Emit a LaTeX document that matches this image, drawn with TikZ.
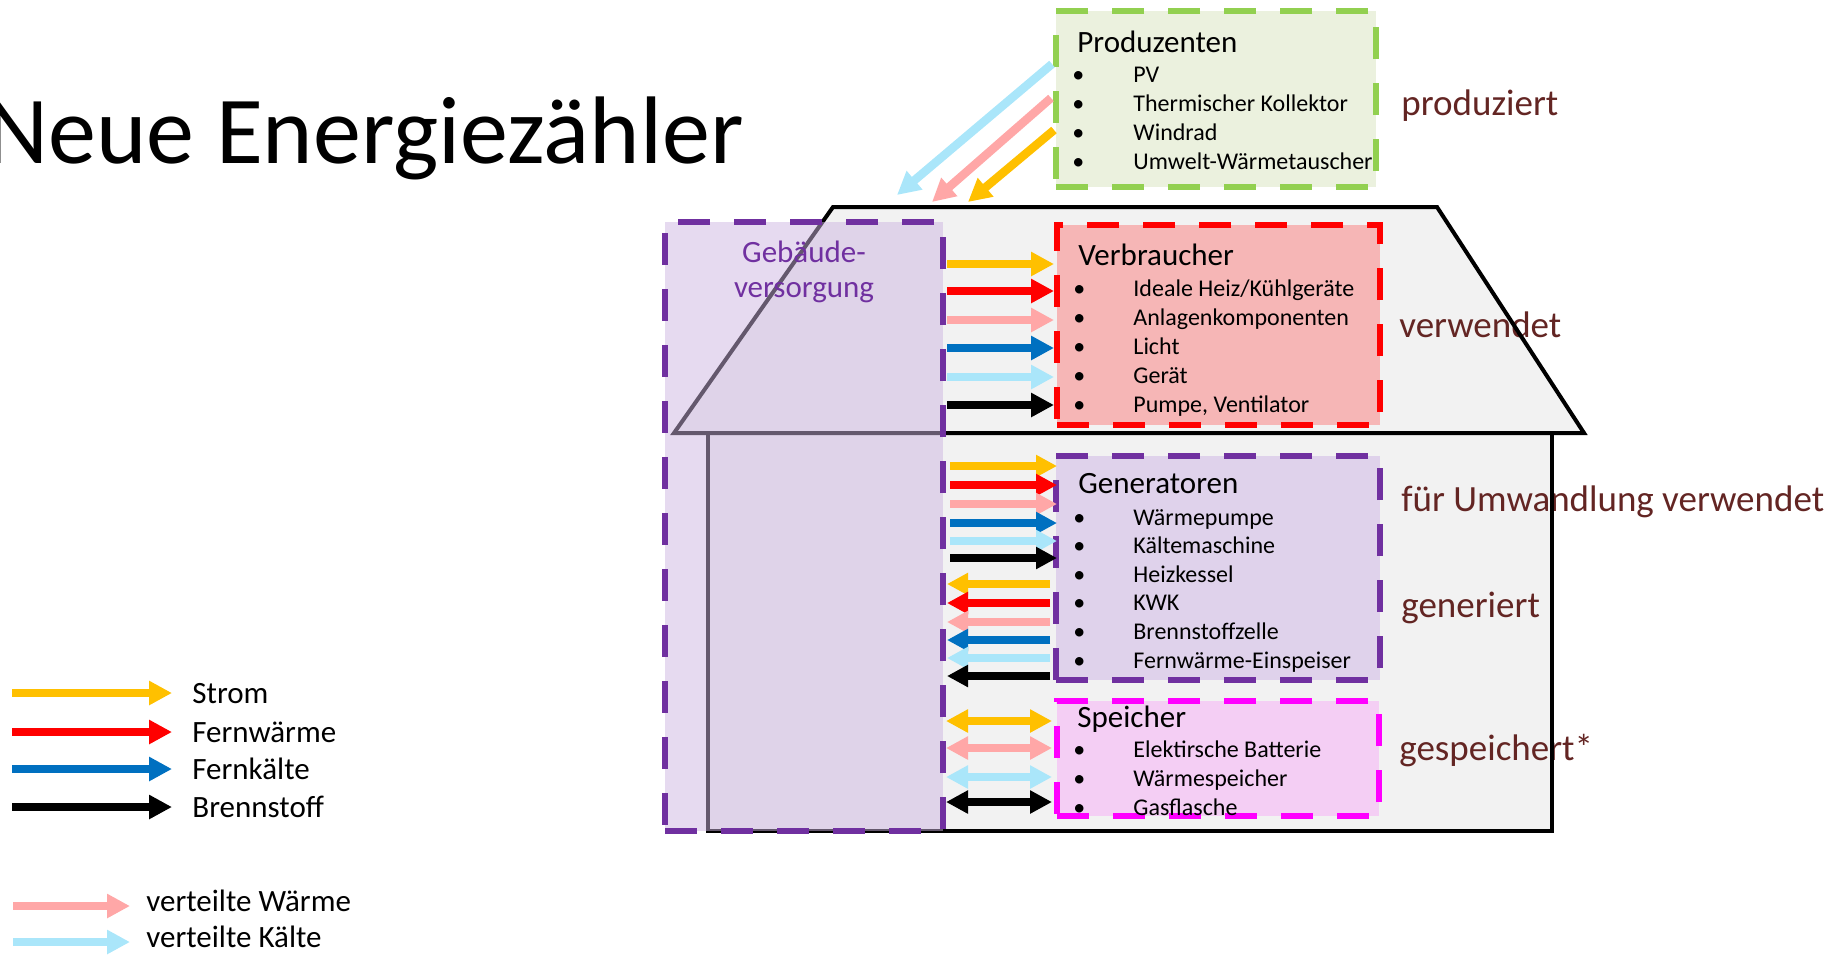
\documentclass[tikz,border=0pt]{standalone}
\usepackage{fontspec}
\setmainfont{Carlito}
\usetikzlibrary{arrows.meta,calc}
\definecolor{cY}{HTML}{FFC000}
\definecolor{cR}{HTML}{FF0000}
\definecolor{cB}{HTML}{0070C0}
\definecolor{cK}{HTML}{000000}
\definecolor{cP}{HTML}{FFA7A7}
\definecolor{cL}{HTML}{AAE6FA}
\definecolor{dred}{HTML}{632523}
\definecolor{purp}{HTML}{7030A0}
\definecolor{gvfill}{HTML}{CCB4E0}
\definecolor{housefill}{HTML}{F2F2F2}
\definecolor{prodfill}{HTML}{EBF1DE}
\definecolor{prodline}{HTML}{92D050}
\definecolor{verbfill}{HTML}{F6B6B6}
\definecolor{genfill}{HTML}{DFD2EB}
\definecolor{speifill}{HTML}{F4CEF4}
\definecolor{magenta2}{HTML}{FF00FF}
\tikzset{
  box/.style={rectangle, inner sep=0pt, outer sep=0pt, line width=3.25pt, dash pattern=on 16pt off 12pt},
  headtxt/.style={font=\fontsize{15.5}{18}\selectfont, anchor=base west, inner sep=0pt},
  itm/.style={font=\fontsize{12}{14}\selectfont, anchor=base west, inner sep=0pt},
  lbl/.style={font=\fontsize{18.5}{22}\selectfont, text=dred, anchor=base west, inner sep=0pt},
  legtxt/.style={font=\fontsize{15.5}{18}\selectfont, anchor=base west, inner sep=0pt},
  arrA/.style={line width=4.25pt, -{Triangle[width=11.5pt,length=11.5pt]}},
  arrG/.style={line width=3.75pt, -{Triangle[width=10.5pt,length=10.5pt]}},
  arrD/.style={line width=4pt, {Triangle[width=11pt,length=11pt]}-{Triangle[width=11pt,length=11pt]}},
  houseline/.style={line width=2pt, black}
}
\begin{document}
\begin{tikzpicture}[x=0.5pt,y=-0.5pt]
\useasboundingbox (0,0) rectangle (1839,955);

% title
\node[font=\fontsize{48}{50}\selectfont, anchor=base west, inner sep=0pt] (title) at (-14,163) {Neue Energiezähler};

% house fill
\fill[housefill] (674,433) -- (833,207) -- (1437,207) -- (1584,433) -- cycle;
\fill[housefill] (708,433) rectangle (1552,831);

% right labels
\node[lbl] (l1) at (1401,115) {produziert};
\node[lbl] (l2) at (1399,337) {verwendet};
\node[lbl] (l3) at (1401,511) {für Umwandlung verwendet};
\node[lbl] (l4) at (1401,617) {generiert};
\node[lbl] (l5) at (1399,760) {gespeichert*};

% house outline
\draw[houseline] (674,433) -- (833,207) -- (1437,207) -- (1584,433) -- cycle;
\draw[houseline] (708,433) rectangle (1552,831);

% Gebaeudeversorgung
\node[box, draw=purp, fill=gvfill, fill opacity=0.49, minimum width=139pt, minimum height=304.5pt] (gv) at (804,526.5) {};
\node[font=\fontsize{15.5}{18}\selectfont, text=purp, anchor=base, inner sep=0pt] (gvt1) at (804,262) {Gebäude-};
\node[font=\fontsize{15.5}{18}\selectfont, text=purp, anchor=base, inner sep=0pt] (gvt2) at (804,297) {versorgung};

% boxes
\node[box, line width=2.75pt, draw=prodline, fill=prodfill, minimum width=160pt, minimum height=88pt] (prod) at (1216,99) {};
\node[box, draw=cR, fill=verbfill, minimum width=161.5pt, minimum height=100pt] (verb) at (1218.5,325) {};
\node[box, draw=purp, fill=genfill, minimum width=162pt, minimum height=112pt] (gen) at (1218,568) {};
\node[box, draw=magenta2, fill=speifill, minimum width=161pt, minimum height=57.5pt] (spei) at (1218,758.5) {};

% Produzenten text
\node[headtxt] (prodT) at (1077,52) {Produzenten};
\foreach \t [count=\i] in {PV, Thermischer Kollektor, Windrad, Umwelt-Wärmetauscher} {
  \node[itm] (pb\i) at (1072,53+29*\i) {•};
  \node[itm] (pi\i) at (1133,53+29*\i) {\t};
}
% Verbraucher text
\node[headtxt] (verbT) at (1078,265) {Verbraucher};
\foreach \t [count=\i] in {Ideale Heiz/Kühlgeräte, Anlagenkomponenten, Licht, Gerät, {Pumpe, Ventilator}} {
  \node[itm] (vb\i) at (1073,268+28.8*\i) {•};
  \node[itm] (vi\i) at (1133,268+28.8*\i) {\t};
}
% Generatoren text
\node[headtxt] (genT) at (1078,493) {Generatoren};
\foreach \t [count=\i] in {Wärmepumpe, Kältemaschine, Heizkessel, KWK, Brennstoffzelle, Fernwärme-Einspeiser} {
  \node[itm] (gb\i) at (1073,496.4+28.6*\i) {•};
  \node[itm] (gi\i) at (1133,496.4+28.6*\i) {\t};
}
% Speicher text
\node[headtxt] (speiT) at (1077,727) {Speicher};
\foreach \t [count=\i] in {Elektirsche Batterie, Wärmespeicher, Gasflasche} {
  \node[itm] (sb\i) at (1073,728+29*\i) {•};
  \node[itm] (si\i) at (1133,728+29*\i) {\t};
}

% arrows gv -> Verbraucher
\foreach \c/\y in {cY/264, cR/291, cP/320, cB/348, cL/377, cK/405} {
  \draw[arrA, \c] ($(gv.east |- 0,\y)+(4,0)$) -- ($(verb.west |- 0,\y)+(-3,0)$);
}
% arrows gv -> Generatoren
\foreach \c/\y in {cY/466, cR/485, cP/504, cB/523, cL/541, cK/558} {
  \draw[arrG, \c] ($(gv.east |- 0,\y)+(7,0)$) -- ($(gen.west |- 0,\y)+(1,0)$);
}
% arrows Generatoren -> gv
\foreach \c/\y in {cY/584, cR/603, cP/622, cB/640, cL/658, cK/676} {
  \draw[arrG, \c] ($(gen.west |- 0,\y)+(-6,0)$) -- ($(gv.east |- 0,\y)+(4,0)$);
}
% double arrows Speicher
\foreach \c/\y in {cY/721, cP/748, cL/777, cK/802} {
  \draw[arrD, \c] ($(gv.east |- 0,\y)+(3,0)$) -- ($(spei.west |- 0,\y)+(-5,0)$);
}

% producer arrows
\coordinate (t1) at (897,195);
\coordinate (t2) at (932,202);
\coordinate (t3) at (968,202);
\draw[arrA, cL] ($(prod.west |- 0,64)+(-4,0)$) -- (t1);
\draw[arrA, cP] ($(prod.west |- 0,98)+(-5,0)$) -- (t2);
\draw[arrA, cY] ($(prod.west |- 0,130)+(-2,0)$) -- (t3);

% legend
\node[legtxt] (lg1) at (192,703) {Strom};
\node[legtxt] (lg2) at (192,742) {Fernwärme};
\node[legtxt] (lg3) at (192,779) {Fernkälte};
\node[legtxt] (lg4) at (192,817) {Brennstoff};
\node[legtxt] (lg5) at (146,911) {verteilte Wärme};
\node[legtxt] (lg6) at (146,947) {verteilte Kälte};
\foreach \n/\c in {lg1/cY, lg2/cR, lg3/cB, lg4/cK} {
  \draw[arrA, \c] ($(\n.base west)+(-180,-10)$) -- ($(\n.base west)+(-20,-10)$);
}
\foreach \n/\c in {lg5/cP, lg6/cL} {
  \draw[arrA, \c] ($(\n.base west)+(-133,-5)$) -- ($(\n.base west)+(-16,-5)$);
}
\end{tikzpicture}
\end{document}
